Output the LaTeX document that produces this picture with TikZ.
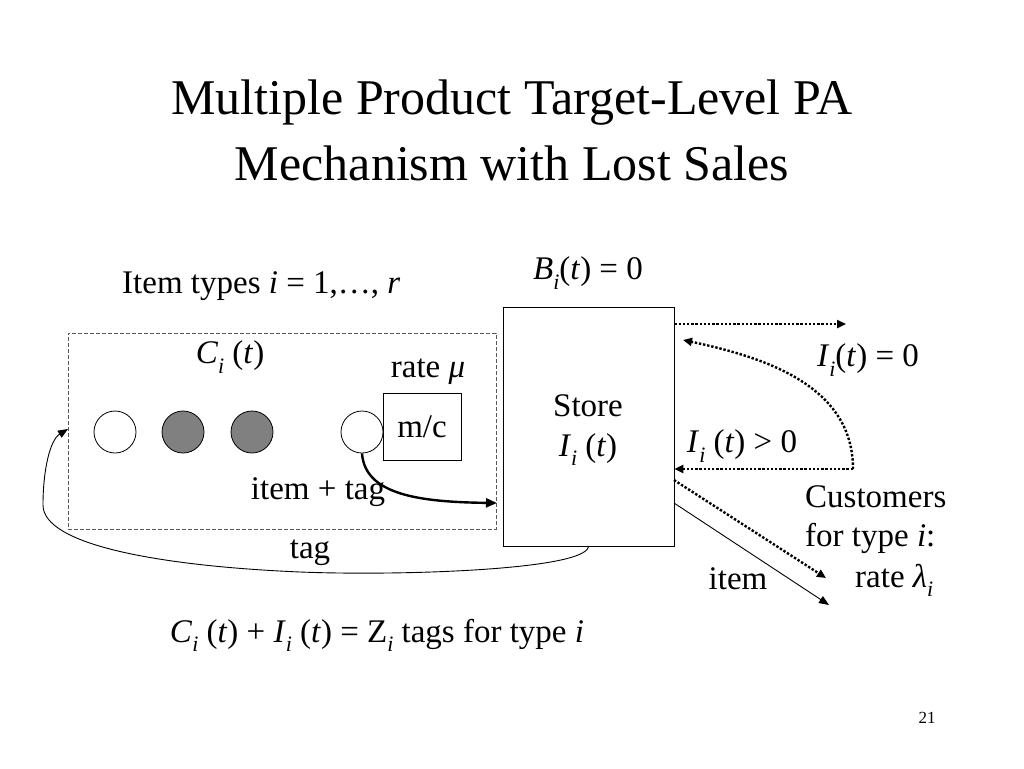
\documentclass[tikz,border=0pt]{standalone}
\usepackage{fontspec}
\setmainfont{Liberation Serif}
\usetikzlibrary{arrows.meta}
\newcommand{\ix}[1]{\textit{#1}}
\newcommand{\sbi}{\raisebox{-0.28em}{\fontsize{22}{22}\selectfont\textit{i}}}
\begin{document}
\begin{tikzpicture}[x=1pt,y=-1pt,
  txt/.style={inner sep=0pt, font=\fontsize{33}{40}\selectfont},
  ttl/.style={inner sep=0pt, font=\fontsize{50}{60}\selectfont},
  ball/.style={circle, draw, line width=0.8pt, minimum size=42pt, inner sep=0pt},
  fullball/.style={ball, fill=gray},
  box/.style={draw, line width=0.8pt, inner sep=0pt},
  dots/.style={line width=2.4pt, dash pattern=on 2.4pt off 1.8pt, -{Triangle[length=9pt,width=8pt]}},
  arr/.style={-{Triangle[length=10pt,width=8pt]}}
]
\useasboundingbox (0,0) rectangle (1024,768);
% title
\node[ttl] (t1) at (512,103) {Multiple Product Target-Level PA};
\node[ttl] (t2) at (512,163) {Mechanism with Lost Sales};
% labels top
\node[txt, anchor=west] (types) at (122,286) {Item types \ix{i} = 1,…, \ix{r}};
\node[txt] (bzero) at (588,273) {\ix{B}\sbi(\ix{t}) = 0};
% queue box
\node[draw=gray!70!black, dash pattern=on 4pt off 2pt, line width=0.9pt, minimum width=428pt, minimum height=196pt, inner sep=0pt] (queue) at (282,431) {};
\node[txt] (ci) at (230,357) {\ix{C}\sbi{} (\ix{t})};
\node[ball] (b1) at (115,432) {};
\node[fullball] (b2) at (183,432) {};
\node[fullball] (b3) at (252,432) {};
\node[ball] (b4) at (362,432) {};
\node[box, minimum width=78pt, minimum height=67pt, txt, draw] (mc) at (422,426.5) {m/c};
\node[txt] (rate) at (428,372) {rate \ix{μ}};
% store
\node[box, minimum width=171pt, minimum height=239pt] (store) at (588.5,426.5) {};
\node[txt, align=center] (storelbl) at (588,430) {Store\\\ix{I}\sbi{} (\ix{t})};
% item + tag arrow
\coordinate (itemin) at (497,503);
\draw[line width=2.4pt, -{Triangle[length=11pt,width=9pt]}] (b4.south) .. controls (365,495) and (420,502) .. (itemin);
\node[txt] (itag) at (318,492) {item + tag};
% tag return
\coordinate (tagl) at (43,505);
\coordinate (tagend) at (68,429);
\draw[line width=0.9pt, arr] (store.south) .. controls (586,570) and (400,576) .. (300,572)
   .. controls (160,566) and (43,545) .. (tagl) .. controls (43,470) and (50,440) .. (tagend);
\node[txt] (tag) at (310,553) {tag};
% right side
\coordinate (lost) at (846,324);
\draw[dots] (store.east |- lost) -- (lost);
\coordinate (cc) at (853,469);
\coordinate (ret) at (683,340);
\draw[dots] (cc) -- (store.east |- cc);
\draw[dots] (cc) to[out=90, in=-12] (ret);
\node[txt] (izero) at (868,360) {\ix{I}\sbi(\ix{t}) = 0};
\node[txt] (ipos) at (742,446) {\ix{I}\sbi{} (\ix{t}) > 0};
\coordinate (cust1) at (826,578);
\coordinate (cust2) at (829,605);
\draw[dots] (674,480) -- (cust1);
\draw[line width=0.9pt, arr] (674,503) -- (cust2);
\node[txt] (item) at (738,579) {item};
\node[txt, anchor=west] (cA) at (805,497) {Customers};
\node[txt, anchor=west] (cB) at (805,538) {for type \ix{i}:};
\node[txt, anchor=west] (cC) at (855,580) {rate \ix{λ}\sbi};
% formula
\node[txt] (formula) at (377,635) {\ix{C}\sbi{} (\ix{t}) + \ix{I}\sbi{} (\ix{t}) = Z\sbi{} tags for type \ix{i}};
\node[inner sep=0pt, font=\fontsize{17}{20}\selectfont] (pg) at (927,718) {21};
\end{tikzpicture}
\end{document}
